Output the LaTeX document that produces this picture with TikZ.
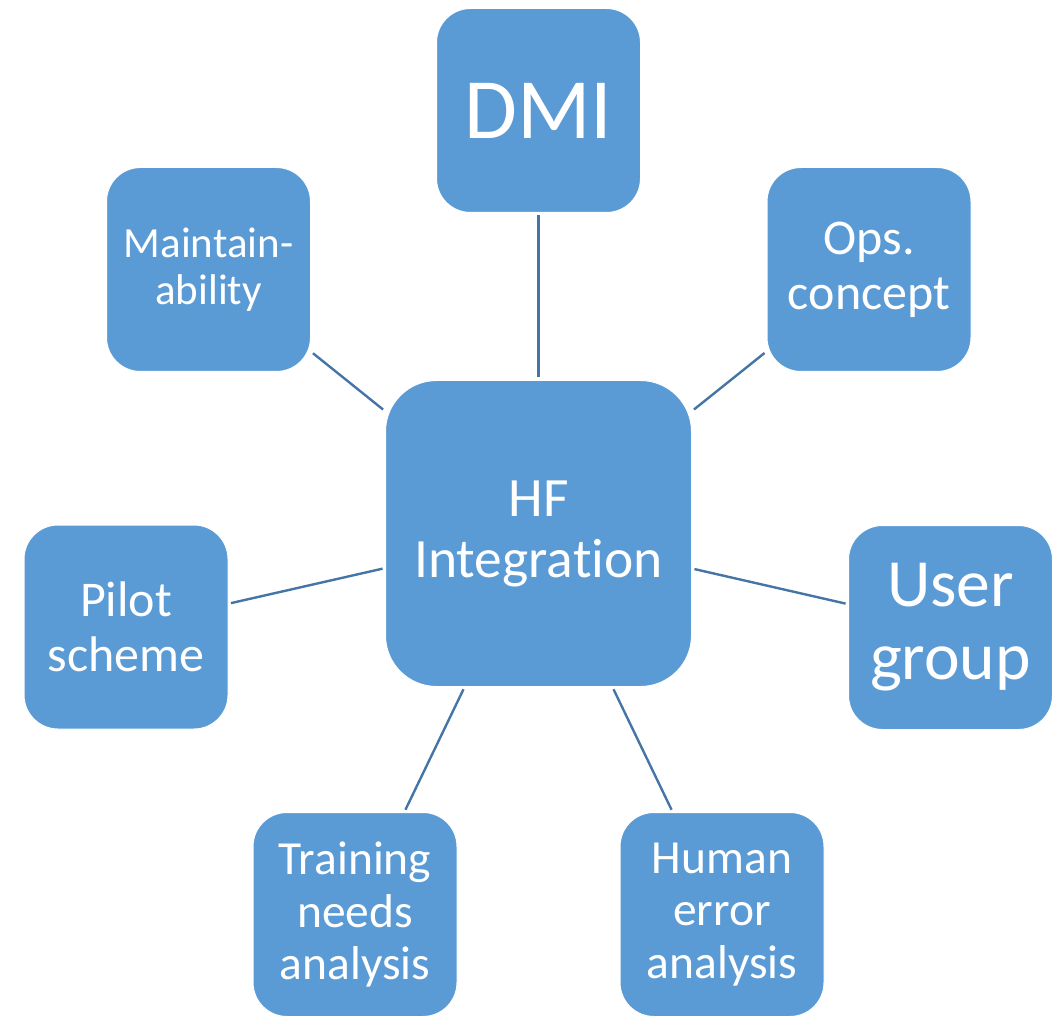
\documentclass[tikz,border=0pt]{standalone}
\usepackage{fontspec}
\setmainfont{Carlito}[Ligatures=NoCommon]
\definecolor{boxblue}{RGB}{91,155,213}
\definecolor{linkblue}{RGB}{68,117,166}
\tikzset{
  topic/.style={rectangle, rounded corners=34pt, fill=boxblue, draw=white,
    line width=1pt, minimum width=204pt, minimum height=204pt,
    inner sep=0pt, text=white, align=center},
  hub/.style={topic, rounded corners=51pt, minimum width=306pt, minimum height=306pt},
  conn/.style={draw=linkblue, line width=2.4pt, shorten <=2.5pt, shorten >=2.5pt},
  fs/.style 2 args={font=\fontsize{#1}{#2}\selectfont}
}
\begin{document}
\begin{tikzpicture}[x=1pt, y=-1pt]
  \useasboundingbox (0,0) rectangle (1061,1016);
  % central hub (kern keeps "t" and "i" as separate glyphs)
  \node[hub, fs={55.5}{61}] (hf) at (538.5,533.5) {HF\\Integrat\kern0pt ion};
  % surrounding topics
  \node[topic, fs={86}{96}] (dmi) at (538.5,110.5) {DMI};
  \node[topic, fs={43}{47}] (maint) at (208.5,269.5) {Maintain-\\ability};
  \node[topic, fs={50}{55}] (ops) at (869,269.5) {Ops.\\concept};
  \node[topic, fs={50}{55}] (pilot) at (126,627) {Pilot\\scheme};
  \node[topic, fs={67.5}{73}] (user) at (950.5,627.5) {User\\group};
  \node[topic, fs={47.5}{52.5}] (train) at (355,914.5) {Training\\needs\\analysis};
  \node[topic, fs={47.5}{52.5}] (human) at (722,914.5) {Human\\error\\analysis};
  % spokes
  \foreach \n in {dmi,maint,ops,pilot,user,train,human}
    \draw[conn] (\n) -- (hf);
\end{tikzpicture}
\end{document}
